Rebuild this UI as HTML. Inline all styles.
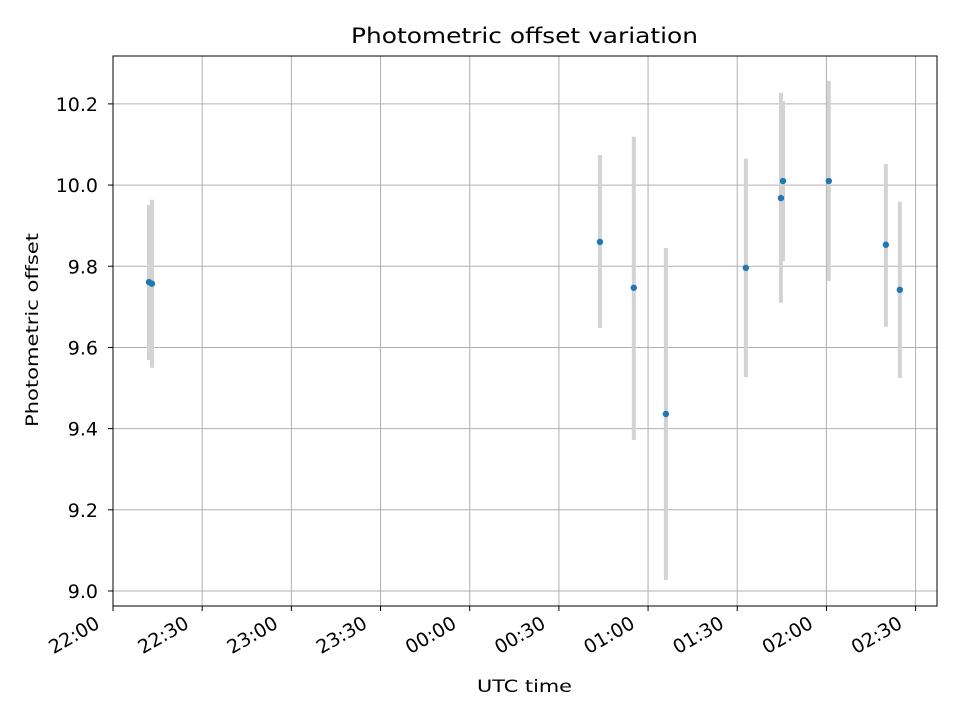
<!DOCTYPE html>
<html><head><meta charset="utf-8"><style>body{margin:0;background:#fff}svg{display:block;font-family:"DejaVu Sans","Liberation Sans",sans-serif}</style></head>
<body>
<svg id="c" width="960" height="720"></svg>
<script>
const minutes=[12.1,13.1,163.8,175.2,186.0,212.9,224.7,225.4,240.8,260.0,264.7];
const offsets=[9.761,9.757,9.860,9.747,9.436,9.796,9.968,10.010,10.010,9.853,9.742];
const errLow=[9.569,9.550,9.648,9.372,9.027,9.527,9.710,9.813,9.764,9.651,9.525];
const errHigh=[9.951,9.964,10.074,10.119,9.845,10.065,10.227,10.207,10.257,10.052,9.959];
const xTicks=[0,30,60,90,120,150,180,210,240,270];
const xTickLabels=["22:00","22:30","23:00","23:30","00:00","00:30","01:00","01:30","02:00","02:30"];
const yTicks=[9.0,9.2,9.4,9.6,9.8,10.0,10.2];
const L=113,R=937,T=56,B=606;
const xs=m=>L+m*(R-L)/277.2;
const ys=v=>B-(v-8.963)*(B-T)/(10.318-8.963);
const s=document.getElementById('c');const NS='http://www.w3.org/2000/svg';
function mk(t,a,p){const e=document.createElementNS(NS,t);for(const k in a)e.setAttribute(k,a[k]);(p||s).appendChild(e);return e;}
yTicks.forEach(v=>{const y=ys(v);
const g=mk('line',{x1:L,x2:R,y1:y,y2:y,stroke:'#b0b0b0','stroke-width':1});

mk('line',{x1:L-5,x2:L,y1:y,y2:y,stroke:'#000'});
const t=mk('text',{x:L-15,y:y+7,'text-anchor':'end','font-size':19});t.textContent=v.toFixed(1);
});
xTicks.forEach((m,i)=>{const x=xs(m);
const g=mk('line',{x1:x,x2:x,y1:T,y2:B,stroke:'#b0b0b0','stroke-width':1});

mk('line',{x1:x,x2:x,y1:B,y2:B+5,stroke:'#000'});
const px=x-12,py=627;
const t=mk('text',{x:px,y:py,'text-anchor':'end','font-size':19,transform:`rotate(-30 ${px} ${py})`});t.textContent=xTickLabels[i];
});
minutes.forEach((m,i)=>{const x=xs(m);
const e=mk('line',{x1:x,x2:x,y1:ys(errHigh[i]),y2:ys(errLow[i]),stroke:'#d3d3d3','stroke-width':4});
});
minutes.forEach((m,i)=>{
const c=mk('circle',{cx:xs(m),cy:ys(offsets[i]),r:3.2,fill:'#1f77b4'});
});
const f=mk('rect',{x:L,y:T,width:R-L,height:B-T,fill:'none',stroke:'#000','stroke-width':1});

let t=mk('text',{x:351,y:43,'font-size':21,textLength:347,lengthAdjust:'spacingAndGlyphs'});t.textContent='Photometric offset variation';

t=mk('text',{x:477,y:692,'font-size':17,textLength:95,lengthAdjust:'spacingAndGlyphs'});t.textContent='UTC time';

t=mk('text',{x:38,y:427,'font-size':17,textLength:194,lengthAdjust:'spacingAndGlyphs',transform:'rotate(-90 38 427)'});t.textContent='Photometric offset';

</script>
</body></html>
